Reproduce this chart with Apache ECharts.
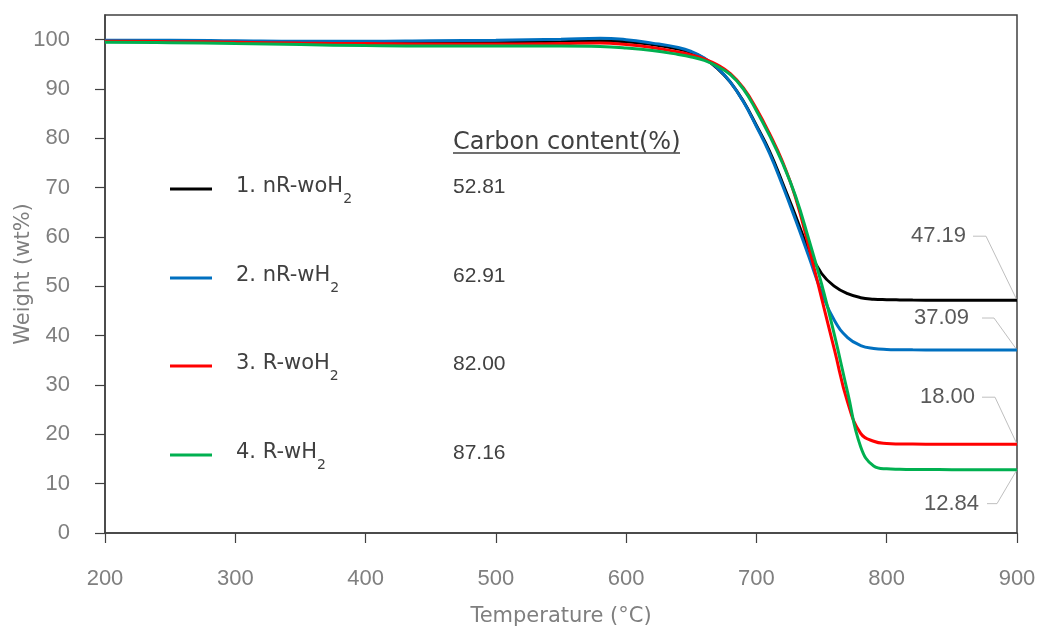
<!DOCTYPE html>
<html>
<head>
<meta charset="utf-8">
<title>TGA curves</title>
<script src="https://cdn.jsdelivr.net/npm/echarts@6/dist/echarts.min.js"></script>
<style>
  html, body { margin: 0; padding: 0; background: #ffffff; }
  #chart { width: 1039px; height: 628px; }
</style>
</head>
<body>
<div id="chart"></div>
<script>
// Temperature samples (°C)
const temperature = [200, 250, 300, 350, 400, 450, 500, 550, 580, 600, 620, 640, 650, 660, 670, 680, 690, 700,
  710, 720, 730, 740, 750, 760, 770, 780, 790, 800, 810, 820, 840, 860, 880, 900];

// Weight remaining (wt%) for each sample
const nRwoH2 = [99.8, 99.7, 99.6, 99.4, 99.3, 99.3, 99.4, 99.6, 99.8, 99.6, 99.0, 98.1, 97.4, 96.2, 94.2, 91.4, 87.5, 82.6,
  77.4, 71.0, 64.3, 57.5, 52.6, 50.0, 48.5, 47.7, 47.4, 47.3, 47.25, 47.22, 47.2, 47.2, 47.19, 47.19];
const nRwH2 = [99.9, 99.9, 99.8, 99.7, 99.7, 99.8, 99.9, 100.1, 100.3, 100.0, 99.3, 98.4, 97.6, 96.3, 94.3, 91.4, 87.4, 82.4,
  77.0, 70.5, 63.5, 56.2, 48.8, 43.0, 39.6, 38.0, 37.4, 37.2, 37.15, 37.12, 37.1, 37.1, 37.09, 37.09];
const RwoH2 = [99.7, 99.6, 99.5, 99.3, 99.2, 99.1, 99.1, 99.2, 99.3, 99.0, 98.4, 97.5, 96.9, 96.1, 94.9, 93.1, 90.2, 86.0,
  81.0, 75.3, 68.0, 58.2, 47.6, 37.0, 26.5, 20.2, 18.6, 18.15, 18.05, 18.02, 18.0, 18.0, 18.0, 18.0];
const RwH2 = [99.5, 99.4, 99.2, 99.0, 98.8, 98.7, 98.7, 98.7, 98.6, 98.3, 97.8, 97.0, 96.5, 95.8, 94.6, 92.9, 90.0, 85.6,
  80.6, 75.0, 68.3, 59.7, 50.5, 40.0, 28.5, 17.5, 13.6, 13.0, 12.9, 12.86, 12.85, 12.84, 12.84, 12.84];

// Sample names (trailing "2" is drawn as a subscript) and carbon contents (%)
const sampleNames = ['1. nR-woH2', '2. nR-wH2', '3. R-woH2', '4. R-wH2'];
const carbonContent = ['52.81', '62.91', '82.00', '87.16'];
const residueLabels = ['47.19', '37.09', '18.00', '12.84'];

// Axis ticks
const xTicks = [200, 300, 400, 500, 600, 700, 800, 900];
const yTicks = [0, 10, 20, 30, 40, 50, 60, 70, 80, 90, 100];

const seriesValues = [nRwoH2, nRwH2, RwoH2, RwH2];
const colors = ['#000000', '#0070C0', '#FF0000', '#00B050'];

// Layout: legend rows, and offsets of the residue labels from the curve ends
const rowY = [190, 279, 367, 456];
const residueOffsets = [
  { right: -51, dy: -64, l1: -44, l2: -31 },
  { right: -48, dy: -32, l1: -35, l2: -23 },
  { right: -42, dy: -47, l1: -35, l2: -22 },
  { right: -38, dy: 34, l1: -30, l2: -20 }
];

const numFont = 'Liberation Sans';
const textFont = 'DejaVu Sans';

const chart = echarts.init(document.getElementById('chart'), null, { renderer: 'canvas' });

const series = seriesValues.map((vals, i) => ({
  name: sampleNames[i],
  type: 'line',
  data: temperature.map((t, k) => [t, vals[k]]),
  showSymbol: false,
  smooth: 0.45,
  lineStyle: { color: colors[i], width: 3 },
  itemStyle: { color: colors[i] },
  z: 2 + i,
  silent: true
}));

const legends = sampleNames.map((name, i) => ({
  data: [name],
  left: 170,
  top: rowY[i] - 14,
  padding: 0,
  icon: 'rect',
  itemWidth: 42,
  itemHeight: 3,
  selectedMode: false,
  formatter: (n) => '{g|}{m|' + n.slice(0, -1) + '}{s|' + n.slice(-1) + '}',
  textStyle: {
    rich: {
      g: { width: 19 },
      m: { fontSize: 21, fontFamily: textFont, color: '#404040', lineHeight: 26, verticalAlign: 'top' },
      s: { fontSize: 14, fontFamily: textFont, color: '#404040', lineHeight: 14, padding: [16, 0, 0, 0], verticalAlign: 'top' }
    }
  }
}));

const option = {
  backgroundColor: '#ffffff',
  animation: false,
  legend: legends,
  grid: {
    left: 105, right: 22, top: 15, bottom: 95,
    outerBoundsMode: 'none',
    containLabel: false,
    show: true, borderColor: '#404040', borderWidth: 1.5, backgroundColor: 'transparent'
  },
  xAxis: {
    type: 'value',
    min: 200, max: 900, interval: 100,
    name: 'Temperature (\u00B0C)',
    nameLocation: 'middle',
    nameGap: 73,
    nameTextStyle: { fontFamily: textFont, fontSize: 21, color: '#7f7f7f' },
    axisLine: { show: true, lineStyle: { color: '#404040', width: 1.5 } },
    axisTick: { show: true, length: 10, inside: false, lineStyle: { color: '#404040', width: 1.2 } },
    axisLabel: { customValues: xTicks, margin: 35, fontFamily: numFont, fontSize: 22, color: '#7f7f7f' },
    splitLine: { show: false }
  },
  yAxis: {
    type: 'value',
    min: 0, max: 105, interval: 10,
    name: 'Weight (wt%)',
    nameLocation: 'middle',
    nameGap: 71,
    nameMoveOverlap: false,
    nameTextStyle: { fontFamily: textFont, fontSize: 21, color: '#7f7f7f' },
    axisLine: { show: true, lineStyle: { color: '#404040', width: 1.5 } },
    axisTick: { show: true, length: 10, inside: false, customValues: yTicks, lineStyle: { color: '#404040', width: 1.2 } },
    axisLabel: { customValues: yTicks, margin: 35, fontFamily: numFont, fontSize: 22, color: '#7f7f7f' },
    splitLine: { show: false }
  },
  series: series
};

chart.setOption(option);

// Carbon content table and residue callouts
const graphics = [];
graphics.push({
  type: 'text', left: 453, top: 131,
  style: { text: 'Carbon content(%)', font: '24px "DejaVu Sans"', fill: '#404040' }
});
graphics.push({
  type: 'line', shape: { x1: 453, y1: 153, x2: 680, y2: 153 },
  style: { stroke: '#404040', lineWidth: 1.5 }
});
carbonContent.forEach((v, i) => {
  graphics.push({
    type: 'text', x: 453, y: rowY[i] - 3,
    style: { text: v, font: '21px "Liberation Sans"', fill: '#404040', verticalAlign: 'middle', align: 'left' }
  });
});
seriesValues.forEach((vals, i) => {
  const end = chart.convertToPixel({ gridIndex: 0 }, [temperature[temperature.length - 1], vals[vals.length - 1]]);
  const o = residueOffsets[i];
  const ly = end[1] + o.dy;
  graphics.push({
    type: 'text', x: end[0] + o.right, y: ly,
    style: { text: residueLabels[i], font: '22px "Liberation Sans"', fill: '#595959', align: 'right', verticalAlign: 'middle' }
  });
  graphics.push({
    type: 'polyline',
    shape: { points: [[end[0] + o.l1, ly], [end[0] + o.l2, ly], [end[0], end[1]]] },
    style: { stroke: '#bfbfbf', lineWidth: 1, fill: null }
  });
});
chart.setOption({ graphic: graphics });
</script>
</body>
</html>
